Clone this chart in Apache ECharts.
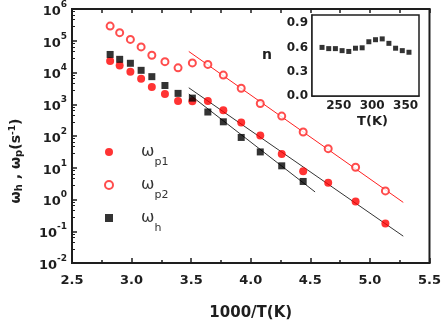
<!DOCTYPE html>
<html>
<head>
<meta charset="utf-8">
<script src="https://cdn.jsdelivr.net/npm/echarts@6.0.0/dist/echarts.min.js"></script>
<style>
html, body {margin: 0; padding: 0; background: #fff;}
#chart {width: 444px; height: 326px;}
</style>
</head>
<body>
<div id="chart"></div>
<script>
// 1000/T for T = 355 ... 195 K
var invT = [2.82, 2.90, 2.99, 3.08, 3.17, 3.28, 3.39, 3.51, 3.64, 3.77, 3.92, 4.08, 4.26, 4.44, 4.65, 4.88, 5.13];
var wp1 = [2.3e4, 1.65e4, 1.05e4, 6.4e3, 3.5e3, 2.1e3, 1.27e3, 1.25e3, 1.27e3, 650, 267, 104, 27, 7.7, 3.4, 0.87, 0.176];
var wp2 = [2.9e5, 1.8e5, 1.1e5, 6.4e4, 3.5e4, 2.2e4, 1.4e4, 2.0e4, 1.8e4, 8.3e3, 3.2e3, 1.06e3, 424, 134, 40, 10.4, 1.86];
var wh = [3.7e4, 2.6e4, 1.95e4, 1.17e4, 7.4e3, 3.9e3, 2.2e3, 1.56e3, 569, 280, 90, 31.5, 11.5, 3.7];

// straight fits (end points)
var fitP2X = [3.48, 5.28], fitP2Y = [4.6e4, 0.81];
var fitP1X = [3.48, 5.28], fitP1Y = [3.3e3, 0.07];
var fitHX = [3.48, 4.54], fitHY = [2.1e3, 1.73];

// inset: n vs T
var tempK = [225, 235, 245, 255, 265, 275, 285, 295, 305, 315, 325, 335, 345, 355];
var nVals = [0.60, 0.585, 0.585, 0.56, 0.55, 0.59, 0.595, 0.67, 0.695, 0.705, 0.65, 0.59, 0.56, 0.54];
var insetLabels = [250, 300, 350];

function pairs(xs, ys) {
    var out = [];
    for (var i = 0; i < ys.length; i++) {
        out.push([xs[i], ys[i]]);
    }
    return out;
}

var FONT = 'DejaVu Sans';
var INK = '#1e1e1e';

var chart = echarts.init(document.getElementById('chart'));

var option = {
    animation: false,
    grid: [
        {left: 72, right: 12, top: 7, bottom: 51, show: true, borderColor: INK, borderWidth: 2},
        {left: 312, width: 107, top: 15, height: 81, show: true, borderColor: INK, borderWidth: 1.5, backgroundColor: '#fff', z: 5}
    ],
    xAxis: [
        {
            type: 'value', gridIndex: 0, min: 2.5, max: 5.5, interval: 0.5,
            name: '1000/T(K)', nameLocation: 'middle', nameGap: 43,
            nameTextStyle: {fontFamily: FONT, fontWeight: 'bold', fontSize: 15, color: INK},
            axisLine: {lineStyle: {color: INK, width: 2}},
            axisTick: {inside: true, length: 5, lineStyle: {color: INK, width: 1.5}},
            minorTick: {show: true, splitNumber: 2, length: 3, lineStyle: {color: INK, width: 1.5}},
            splitLine: {show: false},
            axisLabel: {margin: 11, fontFamily: FONT, fontWeight: 'bold', fontSize: 13, color: INK,
                formatter: function (v) { return v.toFixed(1); }}
        },
        {
            type: 'value', gridIndex: 0, position: 'top', min: 2.5, max: 5.5, interval: 0.25,
            axisLine: {lineStyle: {color: INK, width: 2}},
            axisTick: {inside: true, length: 4, lineStyle: {color: INK, width: 1.5}},
            splitLine: {show: false},
            axisLabel: {show: false}
        },
        {
            type: 'value', gridIndex: 1, min: 210, max: 370, interval: 5,
            name: 'T(K)', nameLocation: 'middle', nameGap: 19,
            nameTextStyle: {fontFamily: FONT, fontWeight: 'bold', fontSize: 13, color: INK, padding: [0, 0, 0, 14]},
            axisLine: {lineStyle: {color: INK, width: 1.5}},
            axisTick: {show: false},
            splitLine: {show: false},
            axisLabel: {margin: 4, fontFamily: FONT, fontWeight: 'bold', fontSize: 12, color: INK,
                formatter: function (v) { return insetLabels.indexOf(v) >= 0 ? String(v) : ''; }}
        }
    ],
    yAxis: [
        {
            type: 'log', gridIndex: 0, logBase: 10, min: 0.01, max: 1e6, splitNumber: 8,
            axisLine: {show: true, lineStyle: {color: INK, width: 2}},
            axisTick: {inside: true, length: 5, lineStyle: {color: INK, width: 1.5}},
            minorTick: {show: true, splitNumber: 5, length: 3, lineStyle: {color: INK, width: 1}},
            splitLine: {show: false},
            axisLabel: {
                margin: 5,
                formatter: function (v) {
                    var e = Math.round(Math.log(v) / Math.LN10);
                    return '{b|10}{sup|' + e + '}';
                },
                rich: {
                    b: {fontFamily: FONT, fontWeight: 'bold', fontSize: 13, lineHeight: 13, color: INK, verticalAlign: 'bottom'},
                    sup: {fontFamily: FONT, fontWeight: 'bold', fontSize: 9, lineHeight: 18, color: INK, verticalAlign: 'top'}
                }
            }
        },
        {
            type: 'value', gridIndex: 1, min: 0, max: 1, interval: 0.3,
            name: 'n', nameLocation: 'middle', nameGap: 40, nameRotate: 0,
            nameTextStyle: {fontFamily: FONT, fontWeight: 'bold', fontSize: 14, color: INK},
            axisLine: {show: true, lineStyle: {color: INK, width: 1.5}},
            axisTick: {inside: true, length: 3, lineStyle: {color: INK}},
            splitLine: {show: false},
            axisLabel: {margin: 4, showMaxLabel: false, fontFamily: FONT, fontWeight: 'bold', fontSize: 12, color: INK,
                formatter: function (v) { return v.toFixed(1); }}
        }
    ],
    legend: {
        data: ['ωp1', 'ωp2', 'ωh'],
        orient: 'vertical', left: 104, top: 136, padding: 0,
        itemWidth: 8, itemHeight: 8, itemGap: 1,
        formatter: function (name) {
            return '{w|ω}{s|' + name.slice(1) + '}';
        },
        textStyle: {
            lineHeight: 32,
            rich: {
                w: {fontFamily: FONT, fontSize: 16, color: '#333', padding: [0, 0, 0, 23]},
                s: {fontFamily: FONT, fontSize: 11, lineHeight: 12, color: '#333', verticalAlign: 'bottom'}
            }
        }
    },
    graphic: [
        {
            type: 'text', x: 16, y: 161, rotation: Math.PI / 2,
            style: {
                text: '{w|ω}{s|h}{w| , ω}{s|p}{w|(s}{sup|-1}{w|)}',
                align: 'center', verticalAlign: 'middle',
                rich: {
                    w: {fontFamily: FONT, fontWeight: 'bold', fontSize: 14, fill: INK, lineHeight: 16},
                    s: {fontFamily: FONT, fontWeight: 'bold', fontSize: 10, fill: INK, lineHeight: 10, verticalAlign: 'bottom'},
                    sup: {fontFamily: FONT, fontWeight: 'bold', fontSize: 9, fill: INK, lineHeight: 9, verticalAlign: 'top'}
                },
                lineHeight: 22
            }
        }
    ],
    series: [
        {name: 'ωp1-fit', type: 'line', xAxisIndex: 0, yAxisIndex: 0, data: pairs(fitP1X, fitP1Y),
            showSymbol: false, lineStyle: {color: '#333', width: 1}, z: 1},
        {name: 'ωh-fit', type: 'line', xAxisIndex: 0, yAxisIndex: 0, data: pairs(fitHX, fitHY),
            showSymbol: false, lineStyle: {color: '#333', width: 1}, z: 1},
        {name: 'ωp2-fit', type: 'line', xAxisIndex: 0, yAxisIndex: 0, data: pairs(fitP2X, fitP2Y),
            showSymbol: false, lineStyle: {color: '#ff2020', width: 1}, z: 1},
        {name: 'ωp1', type: 'scatter', xAxisIndex: 0, yAxisIndex: 0, data: pairs(invT, wp1),
            symbol: 'circle', symbolSize: 8, itemStyle: {color: '#ff0000'}, z: 3},
        {name: 'ωp2', type: 'scatter', xAxisIndex: 0, yAxisIndex: 0, data: pairs(invT, wp2),
            symbol: 'emptyCircle', symbolSize: 7, itemStyle: {color: '#ff2020', borderWidth: 1}, z: 3},
        {name: 'ωh', type: 'scatter', xAxisIndex: 0, yAxisIndex: 0, data: pairs(invT, wh),
            symbol: 'rect', symbolSize: 7, itemStyle: {color: '#000'}, z: 4},
        {name: 'n', type: 'scatter', xAxisIndex: 2, yAxisIndex: 1, data: pairs(tempK, nVals),
            symbol: 'rect', symbolSize: 5, itemStyle: {color: '#000'}, z: 6}
    ]
};

chart.setOption(option);
</script>
</body>
</html>
